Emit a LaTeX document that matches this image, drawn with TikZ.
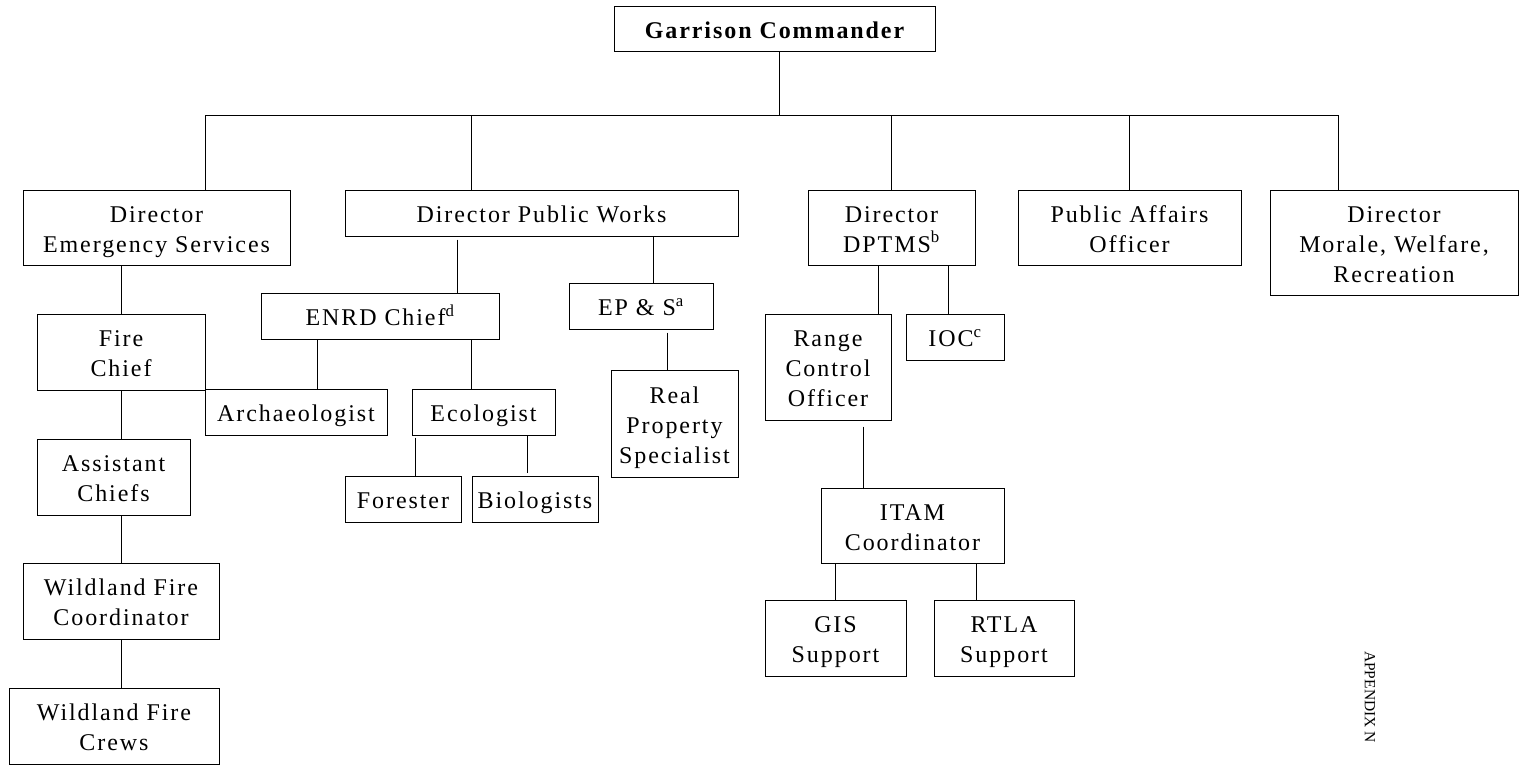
\documentclass[tikz,border=0pt]{standalone}
\usepackage{fontspec}
\setmainfont{Liberation Serif}[LetterSpace=8]
\newfontfamily\plainserif{Liberation Serif}
\newcommand\sv{\rule[-5.5pt]{0pt}{30pt}}
\newcommand\orgbox[6]{\node[box, minimum width={(#3-#2)*1pt}, minimum height={(#5-#4)*1pt}] (#1) at ({(#2+#3)/2},{(#4+#5)/2}) {#6};}
\begin{document}
\begin{tikzpicture}[x=1pt,y=-1pt,
  box/.style={draw, line width=1pt, inner sep=0pt, align=center, font=\fontsize{24}{30}\selectfont},
  link/.style={line width=1pt}]
\useasboundingbox (0,0) rectangle (1528,768);
% boxes: name, x1, x2, y1, y2, text
\orgbox{gc}{614}{935}{7}{52}{\sv\bfseries Garrison Commander}
\orgbox{des}{23}{290}{190}{265}{\sv Director\\\sv Emergency Services}
\orgbox{dpw}{345}{738}{190}{236}{\sv Director Public Works}
\orgbox{dptms}{808}{975}{190}{265}{\sv Director\\\sv DPTMS\textsuperscript{b}}
\orgbox{pao}{1018}{1241}{190}{265}{\sv Public Affairs\\\sv Officer}
\orgbox{mwr}{1270}{1518}{190}{295}{\sv Director\\\sv Morale, Welfare,\\\sv Recreation}
\orgbox{fire}{37}{205}{314}{390}{\sv Fire\\\sv Chief}
\orgbox{enrd}{261}{499}{293}{339}{\sv ENRD Chief\textsuperscript{d}}
\orgbox{eps}{569}{713}{283}{329}{\sv EP \& S\textsuperscript{a}}
\orgbox{rp}{611}{738}{370}{477}{\sv Real\\\sv Property\\\sv Specialist}
\orgbox{arch}{205}{387}{389}{435}{\sv Archaeologist}
\orgbox{eco}{412}{555}{389}{435}{\sv Ecologist}
\orgbox{for}{345}{461}{476}{522}{\sv Forester}
\orgbox{bio}{472}{598}{476}{522}{\sv Biologists}
\orgbox{asst}{37}{190}{439}{515}{\sv Assistant\\\sv Chiefs}
\orgbox{wfc}{23}{219}{563}{639}{\sv Wildland Fire\\\sv Coordinator}
\orgbox{crews}{9}{219}{688}{764}{\sv Wildland Fire\\\sv Crews}
\orgbox{rco}{765}{891}{314}{420}{\sv Range\\\sv Control\\\sv Officer}
\orgbox{ioc}{906}{1004}{314}{360}{\sv IOC\textsuperscript{c}}
\orgbox{itam}{821}{1004}{488}{563}{\sv ITAM\\\sv Coordinator}
\orgbox{gis}{765}{906}{600}{676}{\sv GIS\\\sv Support}
\orgbox{rtla}{934}{1074}{600}{676}{\sv RTLA\\\sv Support}
\node[rotate=-90, inner sep=0pt, font=\plainserif\fontsize{15.5}{18}\selectfont] (app) at (1370,697) {APPENDIX N};
% connector columns
\coordinate (bus) at (779,115);
\coordinate (xdes) at (205,0);
\coordinate (xdpw) at (471,0);
\coordinate (xdptms) at (891,0);
\coordinate (xpao) at (1129,0);
\coordinate (xmwr) at (1338,0);
\coordinate (xenrd) at (457,0);
\coordinate (xeps) at (653,0);
\coordinate (xrp) at (667,0);
\coordinate (xfire) at (121,0);
\coordinate (xarch) at (317,0);
\coordinate (xeco) at (471,0);
\coordinate (xfor) at (415,0);
\coordinate (xbio) at (527,0);
\coordinate (xrco) at (878,0);
\coordinate (xioc) at (948,0);
\coordinate (xitam) at (863,0);
\coordinate (xgis) at (835,0);
\coordinate (xrtla) at (976,0);
% connectors
\draw[link] (gc.south -| bus) -- (bus);
\draw[link] (des.north -| xdes) |- (bus);
\draw[link] (dpw.north -| xdpw) |- (bus);
\draw[link] (dptms.north -| xdptms) |- (bus);
\draw[link] (pao.north -| xpao) |- (bus);
\draw[link] (mwr.north -| xmwr) |- (bus);
\draw[link, shorten <=3pt] (dpw.south -| xenrd) -- (enrd.north -| xenrd);
\draw[link] (dpw.south -| xeps) -- (eps.north -| xeps);
\draw[link, shorten <=3pt] (eps.south -| xrp) -- (rp.north -| xrp);
\draw[link] (des.south -| xfire) -- (fire.north -| xfire);
\draw[link] (enrd.south -| xarch) -- (arch.north -| xarch);
\draw[link] (enrd.south -| xeco) -- (eco.north -| xeco);
\draw[link, shorten <=2pt] (eco.south -| xfor) -- (for.north -| xfor);
\draw[link, shorten >=3pt] (eco.south -| xbio) -- (bio.north -| xbio);
\draw[link] (fire.south -| xfire) -- (asst.north -| xfire);
\draw[link] (asst.south -| xfire) -- (wfc.north -| xfire);
\draw[link] (wfc.south -| xfire) -- (crews.north -| xfire);
\draw[link] (dptms.south -| xrco) -- (rco.north -| xrco);
\draw[link] (dptms.south -| xioc) -- (ioc.north -| xioc);
\draw[link, shorten <=6pt] (rco.south -| xitam) -- (itam.north -| xitam);
\draw[link] (itam.south -| xgis) -- (gis.north -| xgis);
\draw[link] (itam.south -| xrtla) -- (rtla.north -| xrtla);
\end{tikzpicture}
\end{document}
